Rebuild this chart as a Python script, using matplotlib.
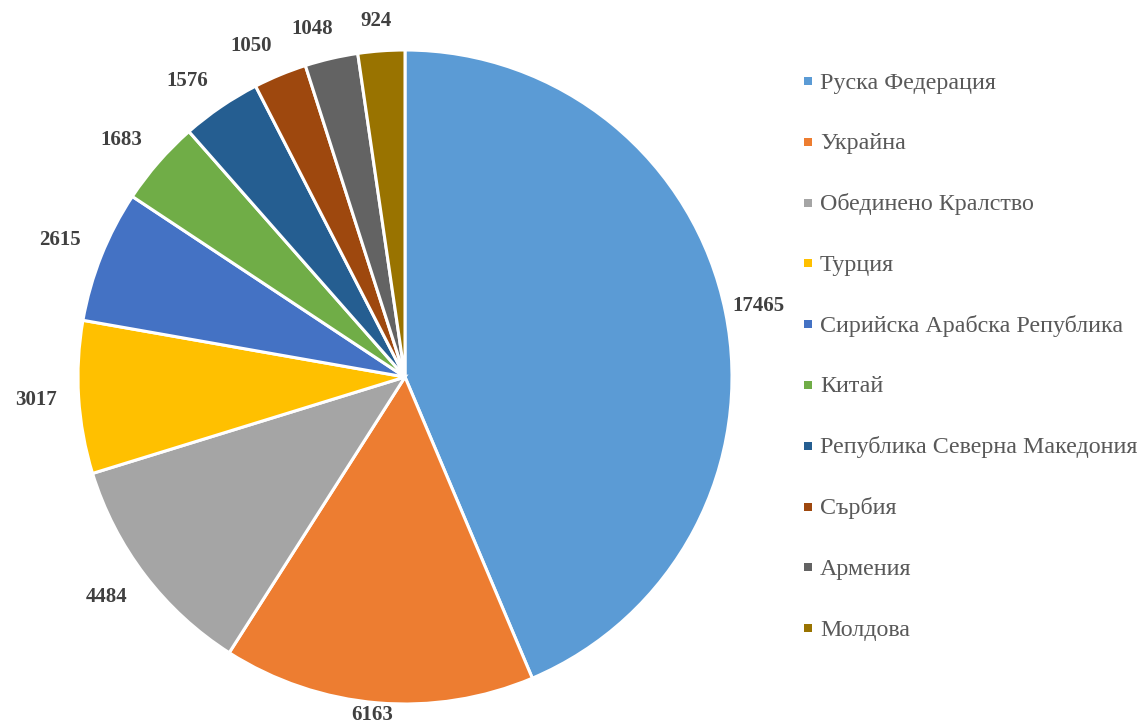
import numpy as np
import matplotlib.pyplot as plt
from matplotlib.patches import Rectangle

countries = ['Руска Федерация', 'Украйна', 'Обединено Кралство', 'Турция',
             'Сирийска Арабска Република', 'Китай', 'Република Северна Македония',
             'Сърбия', 'Армения', 'Молдова']
values = [17465, 6163, 4484, 3017, 2615, 1683, 1576, 1050, 1048, 924]
colors = ['#5B9BD5', '#ED7D31', '#A5A5A5', '#FFC000', '#4472C4',
          '#70AD47', '#255E91', '#9E480E', '#636363', '#997300']

W, H = 1141, 724
fig = plt.figure(figsize=(W / 100, H / 100), dpi=100)
ax = fig.add_axes([0, 0, 1, 1])

cx, cy, R = 405, H - 377, 327
wedges, _ = ax.pie(values, colors=colors, startangle=90, counterclock=False,
                   center=(cx, cy), radius=R,
                   wedgeprops=dict(edgecolor='white', linewidth=2.2))
ax.set_xlim(0, W)
ax.set_ylim(0, H)
ax.set_aspect('auto')
ax.axis('off')

serif = ['Liberation Serif', 'DejaVu Serif']

# data labels outside the slices, box corner pinned near the edge
for w, v in zip(wedges, values):
    ang = np.deg2rad((w.theta1 + w.theta2) / 2)
    c, s = np.cos(ang), np.sin(ang)
    tw, th = 10.5 * len(str(v)), 16
    if s < -0.9:
        gap = 4
    elif c > 0:
        gap = 7
    else:
        gap = 22
    px, py = (R + gap) * c, (R + gap) * s
    px += np.sign(c) * tw / 2 * min(1, abs(c) * 3)
    py += np.sign(s) * th / 2 * min(1, abs(s) * 3)
    ax.text(cx + px, cy + py, str(v), ha='center', va='center',
            fontsize=15, fontweight='bold', color='#404040', family=serif)

# legend
y0, step = 81, 60.8
for i, (name, col) in enumerate(zip(countries, colors)):
    yc = H - (y0 + i * step)
    ax.add_patch(Rectangle((804, yc - 4), 8, 8, color=col, lw=0))
    ax.text(820, yc - 7.5, name, ha='left', va='baseline', fontsize=17.3,
            color='#595959', family=serif)

fig.savefig('out.png', dpi=100)
